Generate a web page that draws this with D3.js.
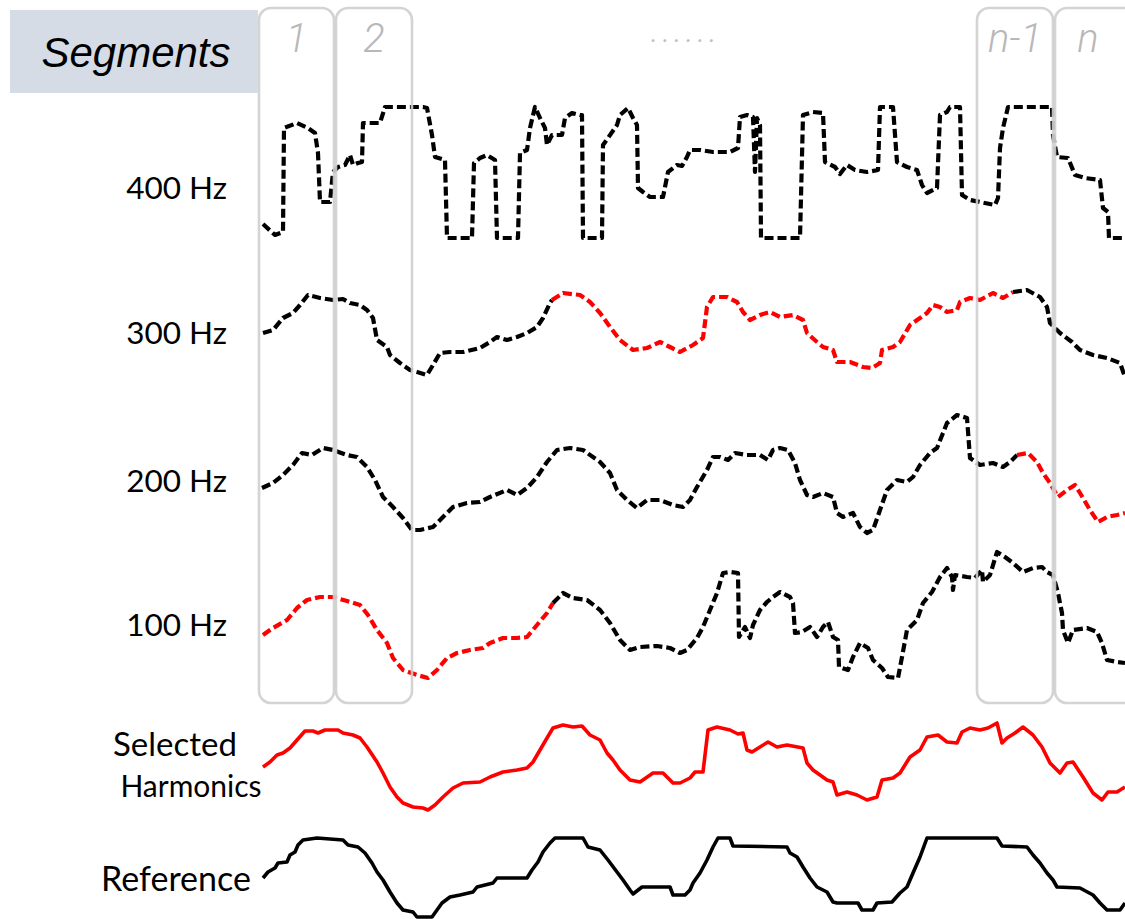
<!DOCTYPE html>
<html>
<head>
<meta charset="utf-8">
<script src="https://cdn.jsdelivr.net/npm/d3@7"></script>
<style>
  html, body { margin: 0; padding: 0; background: #fff; }
  svg { display: block; }
</style>
</head>
<body>
<svg id="chart" width="1125" height="919"></svg>
<script>
// ---------------- DATA ----------------
// time axis in samples (0 .. 865), amplitudes in arbitrary units (0 .. 140)
const timeDomain = [0, 865];
const ampDomain = [0, 140];

const rowLabels = ["400 Hz", "300 Hz", "200 Hz", "100 Hz"];
const bottomLabels = [["Selected", "Harmonics"], ["Reference"]];

const segmentLabels = ["1", "2", "n-1", "n"];
const segmentSpans = [[-1, 74], [76, 152], [717, 793], [795, 880]];
const gapLabel = "......";
const headerLabel = "Segments";

const h400 = [[3,16],[15,5],[23,8],[24,112],[37,117],[48,112],[55,107],[58,87],[60,38],[70,38],[73,68],[78,73],[85,75],[90,85],[93,75],[98,77],[102,78],[103,117],[120,117],[125,133],[163,133],[167,132],[172,105],[175,83],[185,80],[187,2],[212,2],[214,77],[220,82],[227,85],[235,80],[237,2],[258,2],[260,87],[267,90],[270,112],[275,133],[280,122],[285,112],[287,95],[292,105],[302,105],[305,122],[312,127],[320,125],[322,125],[323,2],[342,2],[343,95],[348,102],[357,115],[360,125],[368,132],[373,122],[377,115],[378,52],[383,48],[390,43],[403,43],[408,68],[417,75],[422,74],[427,83],[430,90],[440,90],[453,88],[470,88],[478,92],[480,123],[487,125],[493,123],[495,68],[497,122],[500,115],[501,2],[540,2],[543,125],[553,128],[563,127],[565,78],[575,73],[580,66],[587,75],[595,70],[607,68],[618,70],[620,133],[633,133],[637,78],[647,73],[657,70],[662,55],[667,47],[677,52],[680,125],[687,128],[690,133],[700,133],[702,45],[710,40],[720,38],[735,35],[738,42],[740,92],[743,112],[748,133],[792,133],[793,105],[797,83],[808,82],[815,65],[825,62],[840,60],[843,32],[848,28],[849,2],[865,2]];

const h300 = [[3,47],[13,50],[23,62],[33,67],[40,75],[48,85],[60,82],[73,80],[83,81],[90,77],[100,75],[107,70],[113,62],[117,40],[127,33],[130,25],[140,17],[150,10],[157,8],[167,5],[173,15],[180,27],[190,28],[203,28],[220,32],[230,38],[237,43],[247,40],[257,43],[267,47],[277,53],[283,62],[290,77],[292,80],[303,87],[320,85],[330,78],[340,67],[350,53],[360,40],[373,30],[387,32],[400,38],[410,33],[420,28],[433,35],[443,42],[447,73],[453,83],[467,83],[477,78],[483,68],[490,60],[500,65],[510,68],[520,63],[533,65],[543,60],[547,47],[557,38],[563,33],[573,30],[577,18],[590,18],[603,13],[612,12],[620,17],[622,30],[633,33],[640,38],[650,55],[660,62],[667,67],[673,75],[680,73],[687,68],[697,70],[700,78],[710,82],[720,80],[733,87],[743,82],[753,88],[767,90],[780,83],[787,73],[790,57],[800,47],[812,38],[820,30],[833,25],[847,22],[860,17],[865,3]];

const h200 = [[2,52],[13,57],[23,65],[33,75],[42,87],[52,85],[63,92],[73,90],[87,85],[97,83],[107,73],[115,60],[123,43],[133,33],[143,22],[152,10],[160,10],[173,13],[183,23],[193,33],[207,37],[220,38],[230,43],[247,50],[257,45],[267,52],[277,63],[287,78],[297,90],[310,92],[323,90],[340,78],[350,67],[357,50],[367,40],[377,32],[387,40],[400,40],[413,35],[423,33],[430,40],[437,53],[447,70],[453,83],[460,83],[468,80],[475,87],[487,85],[500,85],[508,80],[513,90],[520,92],[528,90],[535,77],[540,60],[547,45],[553,43],[563,47],[573,43],[577,27],[583,23],[593,27],[600,13],[607,7],[613,10],[620,30],[627,50],[637,60],[647,58],[653,63],[660,75],[670,87],[677,92],[683,107],[687,117],[697,125],[707,122],[710,82],[720,75],[733,77],[743,73],[750,78],[757,85],[768,87],[777,78],[783,67],[790,57],[798,43],[807,50],[815,55],[820,47],[830,30],[838,18],[847,23],[857,25],[865,27]];

const h100 = [[3,45],[13,52],[27,60],[37,72],[47,80],[60,83],[73,83],[87,79],[100,75],[108,65],[117,50],[127,37],[133,22],[143,10],[157,5],[168,2],[177,10],[187,22],[197,27],[210,30],[223,32],[230,37],[243,42],[257,42],[267,43],[277,55],[287,67],[293,77],[303,87],[313,82],[327,80],[340,70],[350,57],[360,40],[370,30],[380,33],[397,34],[410,32],[420,27],[427,30],[437,42],[443,53],[450,70],[457,87],[463,107],[470,108],[478,107],[479,43],[485,53],[490,42],[493,55],[500,70],[507,78],[513,83],[520,88],[530,83],[533,77],[535,47],[542,48],[550,53],[557,43],[563,53],[568,58],[573,43],[578,40],[579,13],[588,10],[593,23],[600,37],[608,32],[613,20],[622,12],[628,3],[638,2],[642,23],[647,50],[657,60],[663,77],[672,88],[680,103],[687,112],[692,103],[693,90],[695,105],[707,103],[715,102],[722,110],[723,98],[730,105],[737,128],[745,123],[753,117],[763,108],[773,112],[782,113],[787,108],[793,105],[798,87],[802,67],[803,50],[808,37],[813,50],[827,52],[837,48],[842,37],[847,20],[857,18],[865,17]];

const selected = [[3,53],[10,58],[17,65],[23,67],[30,72],[37,80],[45,89],[53,89],[58,87],[65,90],[78,90],[83,87],[93,85],[100,82],[107,73],[117,58],[123,47],[130,33],[137,23],[143,17],[153,13],[163,12],[168,10],[175,15],[183,23],[193,32],[203,37],[220,38],[230,43],[243,48],[257,50],[267,52],[273,58],[280,70],[287,82],[293,92],[303,95],[313,93],[322,94],[330,85],[340,80],[347,67],[353,60],[360,50],[370,40],[380,38],[393,47],[403,47],[413,37],[420,37],[430,42],[435,48],[443,48],[448,90],[457,93],[470,90],[478,86],[483,87],[487,70],[492,68],[500,73],[508,78],[517,73],[527,75],[543,72],[547,57],[553,50],[560,45],[567,40],[573,38],[577,25],[587,28],[597,25],[607,20],[617,23],[622,40],[633,42],[640,47],[650,63],[660,70],[667,83],[678,85],[687,78],[697,77],[702,88],[710,92],[720,90],[728,92],[737,97],[742,77],[747,82],[755,87],[763,93],[773,85],[782,73],[790,57],[800,47],[807,57],[813,58],[823,43],[833,27],[842,20],[848,28],[857,28],[865,33]];

const reference = [[3,42],[8,48],[15,52],[18,57],[27,58],[30,65],[35,68],[38,75],[43,80],[57,82],[83,80],[88,75],[98,73],[105,67],[112,57],[117,48],[123,40],[130,28],[137,17],[143,10],[153,8],[157,3],[172,3],[177,10],[182,17],[190,23],[200,25],[213,28],[217,33],[233,37],[237,42],[267,42],[272,50],[278,58],[283,68],[290,77],[295,82],[323,82],[328,73],[340,70],[348,60],[357,48],[363,40],[370,30],[373,26],[382,33],[410,33],[413,25],[425,25],[430,30],[433,37],[440,47],[447,60],[453,73],[458,82],[470,82],[473,74],[527,73],[530,67],[537,63],[543,53],[550,42],[557,33],[567,28],[573,18],[577,17],[598,17],[602,10],[613,10],[617,17],[632,18],[640,27],[647,33],[653,47],[660,63],[667,82],[737,82],[742,74],[767,73],[773,65],[780,57],[787,47],[793,40],[797,33],[820,32],[833,25],[840,17],[847,10],[860,10],[865,17]];

// time ranges (samples) of the harmonic selected in each segment range
const red400 = [];
const red300 = [[292, 753]];
const red200 = [[757, 865]];
const red100 = [[0, 293]];

// ---------------- DRAWING ----------------
const svg = d3.select("#chart");
const x = d3.scaleLinear().domain(timeDomain).range([260, 1125]);
const rowBottoms = [240, 380, 540, 680, 820, 920];
const yFor = b => d3.scaleLinear().domain(ampDomain).range([b, b - 140]);

const gLines = svg.append("g");
const gBoxes = svg.append("g");

function splitByRanges(data, ranges) {
  const cuts = new Set([timeDomain[0], timeDomain[1]]);
  ranges.forEach(r => { cuts.add(r[0]); cuts.add(r[1]); });
  const c = Array.from(cuts).sort((a, b) => a - b);
  const out = [];
  for (let i = 0; i < c.length - 1; i++) {
    const a = c[i], b = c[i + 1];
    const isRed = ranges.some(r => a >= r[0] && b <= r[1]);
    const pts = data.filter(d => d[0] >= a && d[0] <= b);
    if (pts.length > 1) out.push({ color: isRed ? "#ff0000" : "#000000", pts });
  }
  return out;
}

const dashedSeries = [h400, h300, h200, h100];
const redRanges = [red400, red300, red200, red100];

dashedSeries.forEach((s, i) => {
  const y = yFor(rowBottoms[i]);
  const line = d3.line().x(d => x(d[0])).y(d => y(d[1]));
  splitByRanges(s, redRanges[i]).forEach(p => {
    gLines.append("path")
      .attr("d", line(p.pts))
      .attr("fill", "none")
      .attr("stroke", p.color)
      .attr("stroke-width", 4.2)
      .attr("stroke-dasharray", "9,4")
      .attr("stroke-linejoin", "round");
  });
});

[[selected, "#ff0000", 4], [reference, "#000000", 5]].forEach(([s, col, ri]) => {
  const y = yFor(rowBottoms[ri]);
  const line = d3.line().x(d => x(d[0])).y(d => y(d[1]));
  gLines.append("path")
    .attr("d", line(s))
    .attr("fill", "none")
    .attr("stroke", col)
    .attr("stroke-width", 3.6)
    .attr("stroke-linejoin", "round");
});

// segment boxes
segmentSpans.forEach((sp, i) => {
  gBoxes.append("rect")
    .attr("x", x(sp[0])).attr("y", 8)
    .attr("width", x(sp[1]) - x(sp[0])).attr("height", 695)
    .attr("rx", 12).attr("ry", 12)
    .attr("fill", "none")
    .attr("stroke", "#cfcfcf")
    .attr("stroke-opacity", 0.9)
    .attr("stroke-width", 2.6);
  gBoxes.append("text")
    .attr("x", (x(sp[0]) + x(Math.min(sp[1], 865))) / 2 + (i === 3 ? -2 : 0))
    .attr("y", 52)
    .attr("text-anchor", "middle")
    .attr("font-family", "Roboto, 'Liberation Sans', sans-serif")
    .attr("font-weight", 300)
    .attr("font-style", "italic")
    .attr("font-size", 40)
    .attr("fill", "#b8b8b8")
    .text(segmentLabels[i]);
});

svg.append("text")
  .attr("x", x(426)).attr("y", 42)
  .attr("text-anchor", "middle")
  .attr("font-family", "Roboto, sans-serif")
  .attr("font-style", "italic")
  .attr("font-size", 26)
  .attr("letter-spacing", 5)
  .attr("fill", "#c0c0c0")
  .text(gapLabel);

// header box
svg.append("rect")
  .attr("x", 10).attr("y", 10).attr("width", 248).attr("height", 83)
  .attr("fill", "#d6dce5");
svg.append("text")
  .attr("x", 136).attr("y", 67)
  .attr("text-anchor", "middle")
  .attr("font-family", "'Liberation Sans', Arial, sans-serif")
  .attr("font-style", "italic")
  .attr("font-size", 42)
  .attr("fill", "#000")
  .text(headerLabel);

// row labels
const labelFont = "Lato, 'Open Sans', sans-serif";
const rowBaselines = [199, 344, 492, 636];
rowLabels.forEach((t, i) => {
  svg.append("text")
    .attr("x", 227).attr("y", rowBaselines[i])
    .attr("text-anchor", "end")
    .attr("font-family", labelFont)
    .attr("font-size", 31.5)
    .attr("fill", "#000")
    .text(t);
});
const bottomPos = [[[175, 756, 33], [191, 797, 30]], [[176, 891, 34]]];
bottomLabels.forEach((lines, i) => {
  lines.forEach((t, j) => {
    svg.append("text")
      .attr("x", bottomPos[i][j][0]).attr("y", bottomPos[i][j][1])
      .attr("text-anchor", "middle")
      .attr("font-family", labelFont)
      .attr("font-size", bottomPos[i][j][2])
      .attr("fill", "#000")
      .text(t);
  });
});
</script>
</body>
</html>
